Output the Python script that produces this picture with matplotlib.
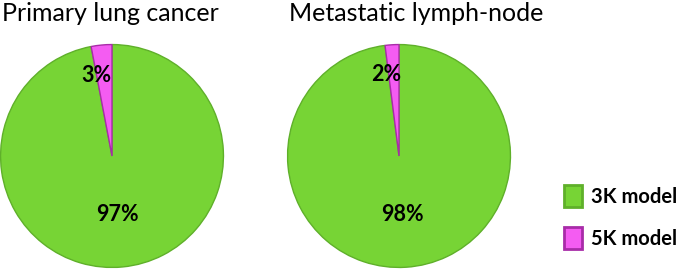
import numpy as np
from matplotlib import pyplot as plt

titles = ["Primary lung cancer", "Metastatic lymph-node"]
models = ["3K model", "5K model"]
shares = [[97, 3], [98, 2]]

green = "#77D435"
pink = "#F45CF2"
edges = ["#5FB02A", "#A82CA8"]

plt.rcParams['font.family'] = ['Lato', 'DejaVu Sans']

W, H = 685, 269
fig = plt.figure(figsize=(W / 100, H / 100), dpi=100)

centers = [112, 399]
cy, r = 156, 112

wedges = None
for cx, title, vals in zip(centers, titles, shares):
    ax = fig.add_axes([(cx - r) / W, (H - cy - r) / H, 2 * r / W, 2 * r / H])
    wedges, _ = ax.pie(vals, colors=[green, pink], startangle=90, counterclock=False,
                       wedgeprops={'linewidth': 1})
    for w, ec in zip(wedges, edges):
        w.set_edgecolor(ec)
    # percent labels
    for w, v, dist, dx in zip(wedges, vals, [0.53, 0.73], [0.0, -0.07]):
        ang = np.deg2rad((w.theta1 + w.theta2) / 2)
        ax.text(dist * np.cos(ang) + dx, dist * np.sin(ang), "{0}%".format(v),
                ha='center', va='center', fontsize=15.5, fontweight='bold')
    ax.set_xlim(-1.005, 1.005)
    ax.set_ylim(-1.005, 1.005)
    fig.text((cx - r) / W + 0.003, 1 - 2 / H, title, ha='left', va='top', fontsize=18)

leg = fig.legend(wedges, models, loc='center left', bbox_to_anchor=(546 / W, 1 - 217 / H),
                 frameon=False, handlelength=0.9, handleheight=1.35,
                 labelspacing=0.95, handletextpad=0.45, prop={'weight': 'bold', 'size': 14.5})
for h, ec in zip(leg.legend_handles, edges):
    h.set_edgecolor(ec)
    h.set_linewidth(2)

fig.savefig("out.png", dpi=100)
